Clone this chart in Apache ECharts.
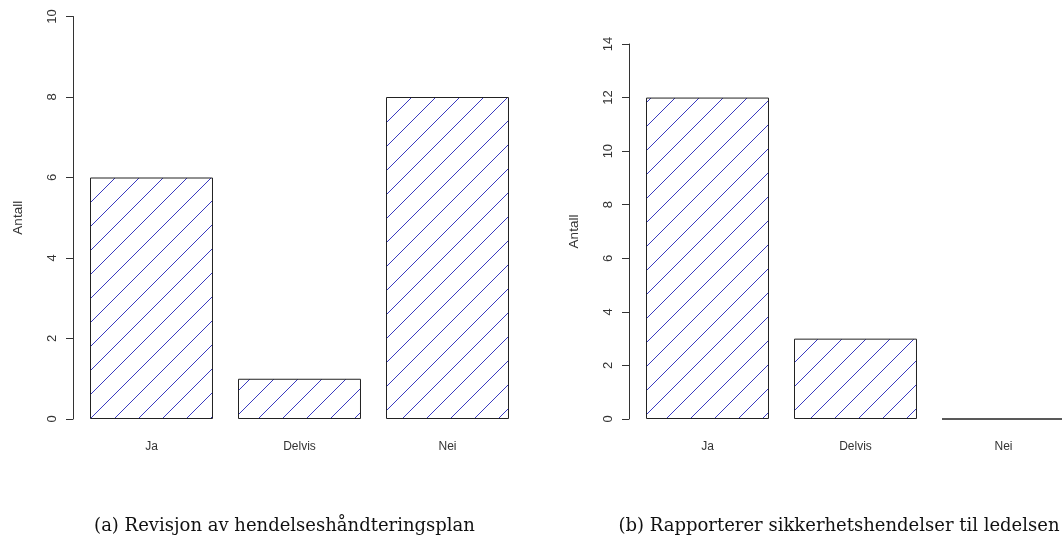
<!DOCTYPE html>
<html>
<head>
<meta charset="utf-8">
<script src="https://cdn.jsdelivr.net/npm/echarts@6/dist/echarts.min.js"></script>
<style>
html,body{margin:0;padding:0;background:#fff;overflow:hidden;}
#chart{width:1100px;height:538px;}
</style>
</head>
<body>
<div id="chart"></div>
<script>
// ---- data ----
const categories = ['Ja', 'Delvis', 'Nei'];
const valuesA = [6, 1, 8];
const valuesB = [12, 3, 0];
const yMaxA = 10;
const yMaxB = 14;
const yInterval = 2;
const captionA = '(a) Revisjon av hendelseshåndteringsplan';
const captionB = '(b) Rapporterer sikkerhetshendelser til ledelsen';
const yName = 'Antall';

// ---- hatch pattern ----
function makeHatch() {
  const s = 24;
  const c = document.createElement('canvas');
  c.width = s; c.height = s;
  const ctx = c.getContext('2d');
  ctx.fillStyle = '#ffffff';
  ctx.fillRect(0, 0, s, s);
  ctx.strokeStyle = '#3a3ac0';
  ctx.lineWidth = 1;
  for (let k = -s; k <= 2 * s; k += s) {
    const c0 = 5 + k; // line: x + y = c0
    ctx.beginPath();
    ctx.moveTo(c0 - s - 2, s + 2);
    ctx.lineTo(c0 + 2, -2);
    ctx.stroke();
  }
  return c;
}
const hatch = makeHatch();

const chart = echarts.init(document.getElementById('chart'), null, {renderer: 'canvas'});

function yAxisDef(gridIndex, max) {
  return {
    type: 'value', gridIndex: gridIndex, min: 0, max: max, interval: yInterval,
    offset: 4.5,
    name: yName, nameLocation: 'middle', nameGap: 48, nameRotate: 90,
    nameTextStyle: {fontFamily: 'Liberation Sans', fontSize: 13.5, color: '#333'},
    axisLine: {show: true, lineStyle: {color: '#333', width: 1}},
    axisTick: {show: true, length: 7, lineStyle: {color: '#333', width: 1}},
    axisLabel: {rotate: 90, margin: 14, fontFamily: 'Liberation Sans', fontSize: 13, color: '#333'},
    splitLine: {show: false}
  };
}
function xAxisDef(gridIndex) {
  return {
    type: 'category', gridIndex: gridIndex, data: categories,
    axisLine: {show: false}, axisTick: {show: false},
    axisLabel: {margin: 22, fontSize: 12, fontFamily: 'Liberation Sans', color: '#333'}
  };
}
function barSeries(idx, data) {
  return {
    type: 'bar', xAxisIndex: idx, yAxisIndex: idx, data: data,
    barCategoryGap: '16.9%',
    itemStyle: {color: {image: hatch, repeat: 'repeat'}, borderColor: '#222', borderWidth: 1},
    emphasis: {disabled: true},
    animation: false
  };
}

chart.setOption({
  animation: false,
  grid: [
    {left: 77.5, top: 16.5, width: 444, height: 402.5},
    {left: 633.5, top: 44, width: 444, height: 375}
  ],
  xAxis: [xAxisDef(0), xAxisDef(1)],
  yAxis: [yAxisDef(0, yMaxA), yAxisDef(1, yMaxB)],
  series: [barSeries(0, valuesA), barSeries(1, valuesB)],
  graphic: [
    {type: 'text', x: 284.5, y: 526, style: {text: captionA, font: '18px "DejaVu Serif"', fill: '#111', textAlign: 'center', textVerticalAlign: 'middle'}},
    {type: 'text', x: 839, y: 526, style: {text: captionB, font: '18px "DejaVu Serif"', fill: '#111', textAlign: 'center', textVerticalAlign: 'middle'}}
  ]
});
</script>
</body>
</html>
